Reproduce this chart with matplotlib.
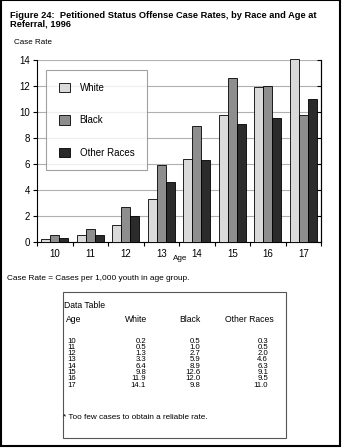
import matplotlib
matplotlib.use("Agg")
import matplotlib.pyplot as plt
from matplotlib.patches import Rectangle
import numpy as np

plt.rcParams['font.family'] = ['Liberation Sans', 'DejaVu Sans']

ages = ['10', '11', '12', '13', '14', '15', '16', '17']
white = [0.2, 0.5, 1.3, 3.3, 6.4, 9.8, 11.9, 14.1]
black = [0.5, 1.0, 2.7, 5.9, 8.9, 12.6, 12.0, 9.8]
other = [0.3, 0.5, 2.0, 4.6, 6.3, 9.1, 9.5, 11.0]
series_names = ['White', 'Black', 'Other Races']
series_colors = ['#dadada', '#8e8e8e', '#2b2b2b']
yticks = [0, 2, 4, 6, 8, 10, 12, 14]

W, H = 342, 448
fig = plt.figure(figsize=(W / 100, H / 100), dpi=100)

def fx(px):
    return px / W

def fy(py):
    return 1 - py / H

# outer frame
fig.patches.append(Rectangle((0.5 / W, 2.5 / H), 1 - 2.5 / W, 1 - 3 / H,
                             transform=fig.transFigure, fill=False,
                             edgecolor='black', linewidth=1.5))

fig.text(fx(10), fy(15.5), "Figure 24:  Petitioned Status Offense Case Rates, by Race and Age at",
         fontsize=6.7, fontweight='bold', va='center', ha='left')
fig.text(fx(10), fy(24.5), "Referral, 1996",
         fontsize=6.7, fontweight='bold', va='center', ha='left')

ax_l, ax_r, ax_t, ax_b = 37, 321, 60, 242
ax = fig.add_axes([fx(ax_l), fy(ax_b), fx(ax_r - ax_l), (ax_b - ax_t) / H])

x = np.arange(len(ages))
bw = 0.255
all_series = [white, black, other]
for i, (vals, name, col) in enumerate(zip(all_series, series_names, series_colors)):
    ax.bar(x + (i - 1) * bw, vals, width=bw, color=col, edgecolor='black',
           linewidth=0.6, label=name, clip_on=False, zorder=3)

ax.set_xlim(-0.5, len(ages) - 0.5)
ax.set_ylim(0, 14)
ax.set_yticks(yticks)
ax.set_yticklabels([str(t) for t in yticks], fontsize=7)
ax.yaxis.grid(True, color='#b0b0b0', linewidth=0.8, zorder=0)
ax.set_axisbelow(True)
ax.tick_params(axis='y', direction='out', length=3, width=0.8, pad=2)

ax.set_xticks(x)
ax.set_xticklabels(ages, fontsize=7)
ax.tick_params(axis='x', length=0, pad=5)
ax.set_xticks(np.arange(len(ages) + 1) - 0.5, minor=True)
ax.tick_params(axis='x', which='minor', direction='out', length=3, width=0.8)

ax.spines['top'].set_visible(False)
ax.spines['right'].set_color('black')
ax.spines['right'].set_linewidth(0.8)
ax.spines['left'].set_linewidth(0.8)
ax.spines['bottom'].set_linewidth(0.8)

# right-side inward ticks
axr = ax.twinx()
axr.set_ylim(0, 14)
axr.set_yticks(yticks)
axr.set_yticklabels([])
axr.tick_params(axis='y', direction='in', length=3, width=0.8)
for s in ['top', 'left', 'bottom']:
    axr.spines[s].set_visible(False)
axr.spines['right'].set_linewidth(0.8)

fig.text(fx(14), fy(43), "Case Rate", fontsize=5.8, va='center', ha='left')
fig.text(fx(180), fy(258), "Age", fontsize=5.8, va='center', ha='center')

leg = ax.legend(loc='upper left', bbox_to_anchor=((46 - ax_l) / (ax_r - ax_l), 1 - (70 - ax_t) / (ax_b - ax_t)),
                fontsize=7, frameon=True, fancybox=False, handlelength=1.15, handleheight=1.15,
                labelspacing=2.3, borderpad=1.3, handletextpad=1.0, borderaxespad=0)
leg.get_frame().set_edgecolor('#8a8a8a')
leg.get_frame().set_linewidth(0.8)
leg.set_zorder(5)

fig.text(fx(7), fy(279), "Case Rate = Cases per 1,000 youth in age group.", fontsize=5.95, va='center', ha='left')

# data table box
fig.patches.append(Rectangle((fx(63), fy(438)), fx(286 - 63), (438 - 292) / H,
                             transform=fig.transFigure, fill=False,
                             edgecolor='#555555', linewidth=0.8))
fs = 6.2
fsd = 5.6
fig.text(fx(64), fy(305), "Data Table", fontsize=fs, va='center', ha='left')
fig.text(fx(66), fy(319), "Age", fontsize=fs, va='center', ha='left')
fig.text(fx(147), fy(319), "White", fontsize=fs, va='center', ha='right')
fig.text(fx(200), fy(319), "Black", fontsize=fs, va='center', ha='right')
fig.text(fx(274), fy(319), "Other Races", fontsize=fs, va='center', ha='right')
row0, dy = 341, 6.33
for k, a in enumerate(ages):
    yy = fy(row0 + k * dy)
    fig.text(fx(67), yy, a, fontsize=fsd, va='center', ha='left')
    fig.text(fx(146), yy, f"{white[k]:.1f}", fontsize=fsd, va='center', ha='right')
    fig.text(fx(200), yy, f"{black[k]:.1f}", fontsize=fsd, va='center', ha='right')
    fig.text(fx(268), yy, f"{other[k]:.1f}", fontsize=fsd, va='center', ha='right')
fig.text(fx(63), fy(417), "* Too few cases to obtain a reliable rate.", fontsize=5.9, va='center', ha='left')

fig.savefig("out.png", dpi=100)
